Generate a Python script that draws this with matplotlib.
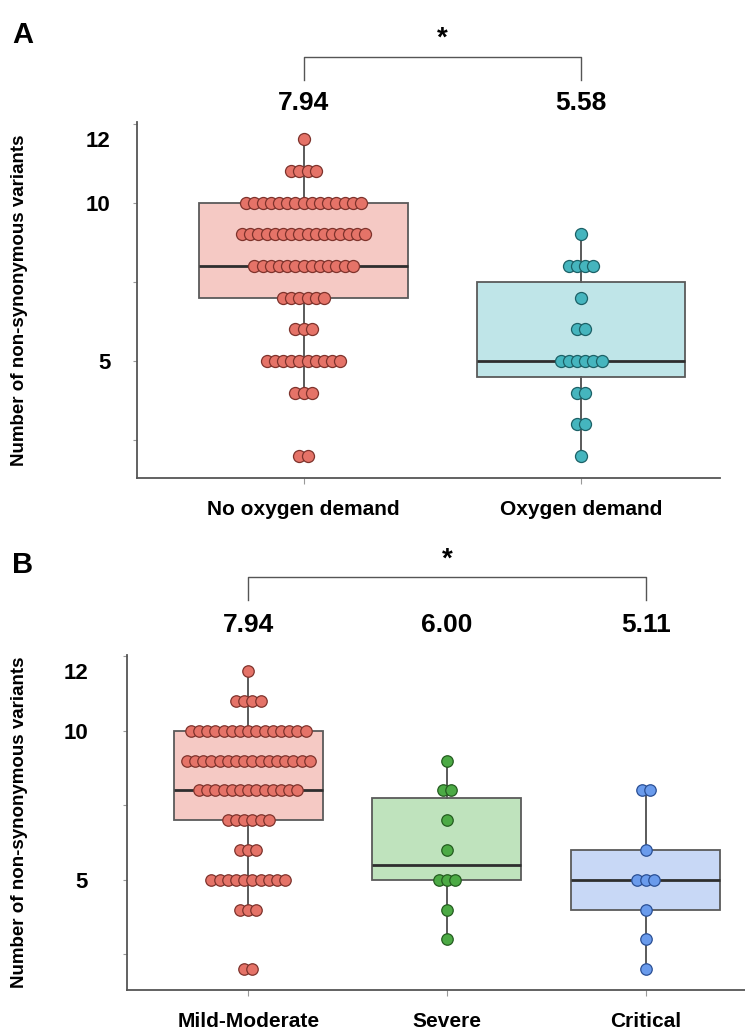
import numpy as np
import matplotlib
matplotlib.use('Agg')
import matplotlib.pyplot as plt
from matplotlib import transforms

plt.rcParams['font.family'] = ['Liberation Sans', 'DejaVu Sans']
plt.rcParams['font.weight'] = 'bold'

# counts of patients per number of variants
levels_mild = [12, 11, 10, 9, 8, 7, 6, 5, 4, 2]
counts_mild = [1, 4, 15, 16, 13, 6, 3, 10, 3, 2]
levels_oxy = [9, 8, 7, 6, 5, 4, 3, 2]
counts_oxy = [1, 4, 1, 2, 6, 2, 2, 1]
levels_severe = [9, 8, 7, 6, 5, 4, 3]
counts_severe = [1, 2, 1, 1, 3, 1, 1]
levels_crit = [8, 6, 5, 4, 3, 2]
counts_crit = [2, 1, 3, 1, 1, 1]

labels_a = ['No oxygen demand', 'Oxygen demand']
means_a = ['7.94', '5.58']
labels_b = ['Mild-Moderate', 'Severe', 'Critical']
means_b = ['7.94', '6.00', '5.11']

dot_colors = ['#e57368', '#45b5be', '#4caa45', '#6a9bec']
box_colors = ['#f5c9c4', '#bfe5e8', '#bfe3bd', '#c8d8f6']
dot_edges = ['#7e332c', '#1c6167', '#245c20', '#2a4f94']

W, H = 745, 1036
fig = plt.figure(figsize=(W / 100, H / 100), dpi=100)


def panel(rect, groups, labels, means, colors, xlim, letter, letter_y, mean_y,
          br_top, br_bot, star_y, tick_pad, xpad, dot_s):
    ax = fig.add_axes(rect)
    data = [np.repeat(l, c) for l, c in groups]
    pos = np.arange(len(data))
    bp = ax.boxplot(data, positions=pos, widths=0.75, whis=1.5, showfliers=False,
                    showcaps=False, patch_artist=True,
                    medianprops=dict(color='#2e2e2e', linewidth=2.0),
                    whiskerprops=dict(color='#5a5a5a', linewidth=1.4),
                    boxprops=dict(edgecolor='#5a5a5a', linewidth=1.3))
    for patch, c in zip(bp['boxes'], colors):
        patch.set_facecolor(box_colors[c])
    ax.set_xlim(*xlim)
    ax.set_ylim(1.3, 12.55)

    # swarm: each row of equal values spread symmetrically around the box centre
    px_per_unit = rect[2] * W / (xlim[1] - xlim[0])
    step = 8.2 / px_per_unit
    for g, (lv, ct) in enumerate(groups):
        xs, ys = [], []
        for v, n in zip(lv, ct):
            off = (np.arange(n) - (n - 1) / 2) * step
            xs.extend(pos[g] + off)
            ys.extend([v] * n)
        ax.scatter(xs, ys, s=dot_s, color=dot_colors[colors[g]],
                   edgecolor=dot_edges[colors[g]], linewidth=0.9, zorder=3)

    ax.spines[['top', 'right']].set_visible(False)
    for sp in ['left', 'bottom']:
        ax.spines[sp].set_color('#555555')
        ax.spines[sp].set_linewidth(1.3)
    ax.set_yticks([2.5, 5, 7.5, 10, 12.5], ['', '5', '', '10', ''])
    ax.set_yticks([12], ['12'], minor=True)
    ax.tick_params(axis='y', which='major', length=3, width=0.8, color='#999999',
                   pad=tick_pad, labelsize=16)
    ax.tick_params(axis='y', which='minor', length=0, pad=tick_pad + 3,
                   labelsize=16)
    ax.set_xticks(pos, labels)
    ax.tick_params(axis='x', length=4, width=0.8, color='#999999', pad=xpad,
                   labelsize=15)
    ax.set_ylabel('Number of non-synonymous variants', fontsize=13.5,
                  fontweight='bold')
    ax.yaxis.set_label_coords(-(rect[0] * W - 20) / (rect[2] * W), 0.5)
    ax.yaxis.label.set_va('center')

    trans = transforms.blended_transform_factory(ax.transData, ax.transAxes)
    for x, m in zip(pos, means):
        ax.text(x, mean_y, m, transform=trans, ha='center', va='center',
                fontsize=19, fontweight='bold', clip_on=False)
    x0, x1 = pos[0], pos[-1]
    ax.plot([x0, x0, x1, x1], [br_bot, br_top, br_top, br_bot], transform=trans,
            color='#555555', linewidth=1.0, clip_on=False)
    ax.text((x0 + x1) / 2, star_y, '*', transform=trans, ha='center',
            va='center', fontsize=20, fontweight='bold', clip_on=False)
    fig.text(12 / W, letter_y, letter, fontsize=21, fontweight='bold',
             ha='left', va='center')
    return ax


groups_a = [(levels_mild, counts_mild), (levels_oxy, counts_oxy)]
groups_b = [(levels_mild, counts_mild), (levels_severe, counts_severe),
            (levels_crit, counts_crit)]

panel([137 / W, 1 - 478 / H, 583 / W, 356 / H], groups_a, labels_a, means_a,
      [0, 1], (-0.6, 1.5), 'A', 1 - 35 / H, 1.053, 1.183, 1.118, 1.235,
      16, 12, 75)
panel([127 / W, 1 - 990 / H, 618 / W, 335 / H], groups_b, labels_b, means_b,
      [0, 2, 3], (-0.61, 2.5), 'B', 1 - 565 / H, 1.09, 1.233, 1.164, 1.285,
      25, 12, 68)

fig.savefig('out.png', dpi=100)
